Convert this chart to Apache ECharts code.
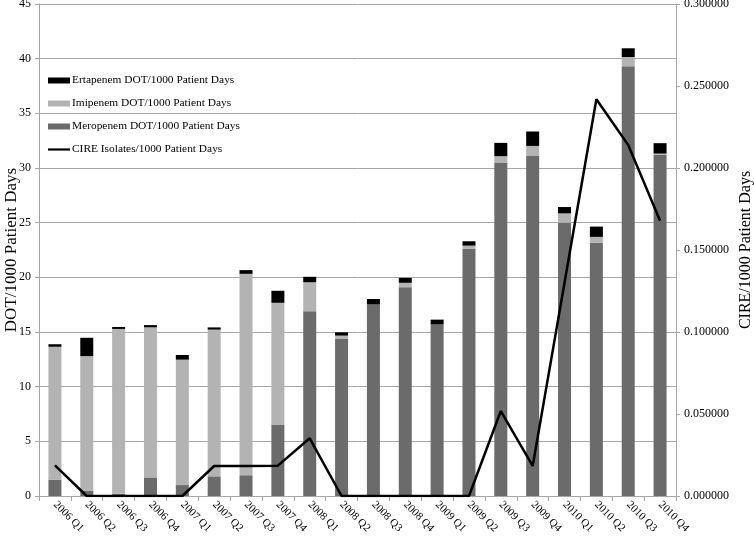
<!DOCTYPE html>
<html>
<head>
<meta charset="utf-8">
<script src="https://cdn.jsdelivr.net/npm/echarts@6/dist/echarts.min.js"></script>
<style>html,body{margin:0;padding:0;background:#fff;}#c{width:754px;height:541px;}</style>
</head>
<body>
<div id="c"></div>
<script>
const categories = ['2006 Q1','2006 Q2','2006 Q3','2006 Q4','2007 Q1','2007 Q2','2007 Q3','2007 Q4','2008 Q1','2008 Q2','2008 Q3','2008 Q4','2009 Q1','2009 Q2','2009 Q3','2009 Q4','2010 Q1','2010 Q2','2010 Q3','2010 Q4'];
const meropenem = [1.5, 0.5, 0.2, 1.7, 1.0, 1.8, 1.9, 6.5, 16.9, 14.4, 17.55, 19.1, 15.7, 22.6, 30.5, 31.1, 25.0, 23.15, 39.3, 31.2];
const imipenem  = [12.15, 12.3, 15.08, 13.73, 11.47, 13.42, 18.42, 11.17, 2.65, 0.27, 0, 0.4, 0, 0.3, 0.58, 0.92, 0.85, 0.55, 0.85, 0.12];
const ertapenem = [0.23, 1.67, 0.18, 0.2, 0.43, 0.2, 0.34, 1.1, 0.5, 0.3, 0.47, 0.45, 0.43, 0.4, 1.22, 1.32, 0.58, 0.94, 0.8, 0.95];
const cire = [0.0187, 0, 0, 0, 0, 0.0183, 0.0183, 0.0185, 0.0352, 0, 0, 0, 0, 0, 0.0518, 0.0183, 0.130, 0.2419, 0.214, 0.1679];
const leftTicks = {min: 0, max: 45, interval: 5};
const rightTicks = {min: 0, max: 0.3, interval: 0.05};

const font = 'Liberation Serif';
const gray = '#a6a6a6';
const chart = echarts.init(document.getElementById('c'));
chart.setOption({
  animation: false,
  textStyle: {fontFamily: font},
  grid: {left: 39, right: 78, top: 4, bottom: 45, containLabel: false, outerBoundsMode: 'none'},
  legend: {
    orient: 'vertical', left: 43, top: 70, itemGap: 12, itemWidth: 22, itemHeight: 6,
    symbolKeepAspect: true,
    textStyle: {fontFamily: font, fontSize: 11.4, color: '#000', padding: [0, 0, 0, -3]},
    data: [
      {name: 'Ertapenem DOT/1000 Patient Days', icon: 'rect'},
      {name: 'Imipenem DOT/1000 Patient Days', icon: 'rect'},
      {name: 'Meropenem DOT/1000 Patient Days', icon: 'rect'},
      {name: 'CIRE Isolates/1000 Patient Days', icon: 'path://M0,0L22,0L22,2.2L0,2.2Z'}
    ]
  },
  xAxis: {
    type: 'category', data: categories, boundaryGap: true,
    axisLine: {lineStyle: {color: gray, width: 1}},
    axisTick: {show: true, length: 5, alignWithLabel: false, lineStyle: {color: gray}},
    axisLabel: {rotate: -45, color: '#000', fontFamily: font, fontSize: 11, margin: 7, interval: 0}
  },
  yAxis: [
    {
      type: 'value', min: leftTicks.min, max: leftTicks.max, interval: leftTicks.interval,
      name: 'DOT/1000 Patient Days', nameLocation: 'middle', nameRotate: 90, nameGap: 19,
      nameMoveOverlap: false,
      nameTextStyle: {fontFamily: font, fontSize: 17, color: '#000'},
      axisLine: {show: true, lineStyle: {color: gray}},
      axisTick: {show: true, length: 4, lineStyle: {color: gray}},
      axisLabel: {color: '#000', fontFamily: font, fontSize: 12, margin: 8},
      splitLine: {show: true, lineStyle: {color: gray, width: 1}}
    },
    {
      type: 'value', min: rightTicks.min, max: rightTicks.max, interval: rightTicks.interval,
      position: 'right',
      name: 'CIRE/1000 Patient Days', nameLocation: 'middle', nameRotate: 90, nameGap: 62,
      nameMoveOverlap: false,
      nameTextStyle: {fontFamily: font, fontSize: 16, color: '#000'},
      axisLine: {show: true, lineStyle: {color: gray}},
      axisTick: {show: true, length: 4, lineStyle: {color: gray}},
      axisLabel: {color: '#000', fontFamily: font, fontSize: 12, margin: 8,
        formatter: v => v.toFixed(6)},
      splitLine: {show: false}
    }
  ],
  series: [
    {name: 'Meropenem DOT/1000 Patient Days', type: 'bar', stack: 'dot', data: meropenem, barWidth: 13, itemStyle: {color: '#6b6b6b'}},
    {name: 'Imipenem DOT/1000 Patient Days', type: 'bar', stack: 'dot', data: imipenem, barWidth: 13, itemStyle: {color: '#b3b3b3'}},
    {name: 'Ertapenem DOT/1000 Patient Days', type: 'bar', stack: 'dot', data: ertapenem, barWidth: 13, itemStyle: {color: '#000000'}},
    {name: 'CIRE Isolates/1000 Patient Days', type: 'line', yAxisIndex: 1, data: cire, showSymbol: false, symbol: 'none',
      lineStyle: {color: '#000', width: 2.5}, itemStyle: {color: '#000'}}
  ]
});
</script>
</body>
</html>
